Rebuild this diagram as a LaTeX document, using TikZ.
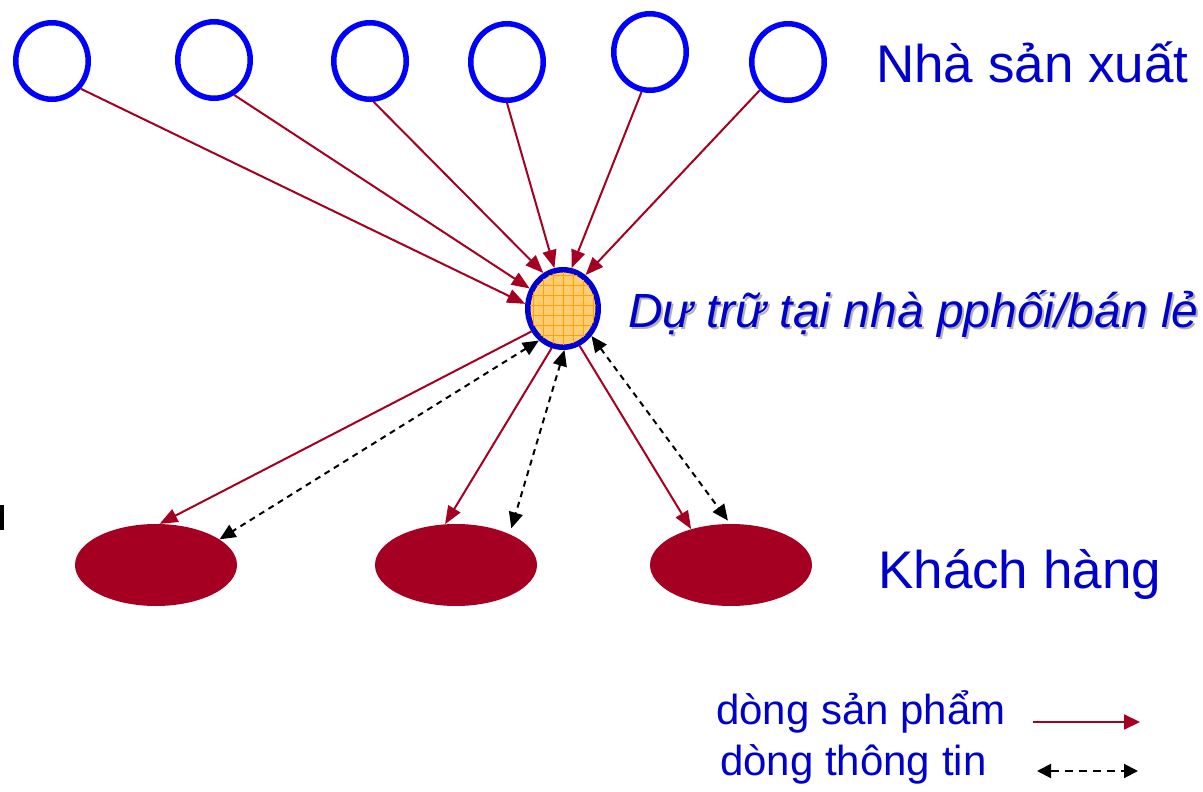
\documentclass[tikz,border=0pt]{standalone}
\usepackage{fontspec}
\setmainfont{Liberation Sans}
\usetikzlibrary{shapes.geometric,arrows.meta}
\definecolor{prodred}{RGB}{165,0,33}
\definecolor{txtblue}{RGB}{0,0,204}
\definecolor{ringblue}{RGB}{0,0,255}
\definecolor{cblue}{RGB}{0,0,210}
\definecolor{cfill}{RGB}{255,204,110}
\definecolor{cgrid}{RGB}{255,160,20}
\tikzset{
  producer/.style={ellipse,draw=ringblue,line width=5.5pt,minimum width=72.5pt,minimum height=76.5pt,inner sep=0pt,fill=white},
  customer/.style={ellipse,fill=prodred,minimum width=162pt,minimum height=82pt,inner sep=0pt},
  store/.style={ellipse,draw=cblue,line width=5.5pt,fill=cfill,minimum width=70.5pt,minimum height=77.5pt,inner sep=0pt},
  prodflow/.style={draw=prodred,line width=2pt,-{Triangle[length=18pt,width=14pt]}},
  infoflow/.style={draw=black,line width=2pt,dash pattern=on 6pt off 5pt,{Triangle[length=16pt,width=14pt]}-{Triangle[length=16pt,width=14pt]}},
  bigtext/.style={text=txtblue,anchor=base west,inner sep=0pt,font=\fontsize{53}{60}\selectfont},
  legtext/.style={text=txtblue,anchor=base west,inner sep=0pt,font=\fontsize{42}{48}\selectfont},
}
\begin{document}
\begin{tikzpicture}[x=1pt,y=-1pt]
\useasboundingbox (0,0) rectangle (1203,792);
% producers
\node[producer] (p1) at (52,61) {};
\node[producer] (p2) at (214,60) {};
\node[producer] (p3) at (370,61) {};
\node[producer] (p4) at (507,62) {};
\node[producer] (p5) at (650,52) {};
\node[producer] (p6) at (788,62) {};
% store
\node[store] (c) at (563,308.5) {};
\begin{scope}
  \clip (563,308.5) ellipse [x radius=33, y radius=36.5];
  \foreach \gx in {523,533,...,603} {\draw[cgrid,line width=0.8pt] (\gx,260) -- (\gx,360);}
  \foreach \gy in {265,275,...,355} {\draw[cgrid,line width=0.8pt] (520,\gy) -- (610,\gy);}
\end{scope}
% customers
\node[customer] (k1) at (156,565) {};
\node[customer] (k2) at (456,565) {};
\node[customer] (k3) at (731,565) {};
% product flows in
\draw[prodflow] (p1.-44) -- (c.173);
\draw[prodflow] (p2.-60) -- (c.149);
\draw[prodflow] (p3.-85) -- (c.119);
\draw[prodflow] (p4.-90) -- (c.102);
\draw[prodflow] (p5.-102) -- (c.78);
\draw[prodflow] (p6.-135) -- (c.56);
% product flows out
\draw[prodflow] (c.-144) -- (k1.85);
\draw[prodflow] (c.-106) -- (k2.105);
\draw[prodflow] (c.-66) -- (k3.138);
% information flows
\draw[infoflow] (c.-127) -- (k1.22);
\draw[infoflow,shorten >=6pt] (c.-88) -- (k2.30);
\draw[infoflow,shorten >=4pt] (c.-44) -- (k3.91);
% labels
\node[bigtext] (tp) at (876,82) {Nhà sản xuất};
\node[bigtext] (tk) at (878,588) {Khách hàng};
\node[text=black!30,anchor=base west,inner sep=0pt,font=\fontsize{48}{54}\selectfont\itshape] (tsh) at (630,329) {Dự trữ tại nhà pphối/bán lẻ};
\node[text=txtblue,anchor=base west,inner sep=0pt,font=\fontsize{48}{54}\selectfont\itshape] (ts) at (628,327) {Dự trữ tại nhà pphối/bán lẻ};
% legend
\node[legtext] (l1) at (716,724) {dòng sản phẩm};
\node[legtext] (l2) at (720,775) {dòng thông tin};
\coordinate (la1) at (1033,722);
\coordinate (la2) at (1140,722);
\coordinate (lb1) at (1037,771);
\coordinate (lb2) at (1138,771);
\draw[draw=prodred,line width=2pt,-{Triangle[length=16pt,width=15pt]}] (la1) -- (la2);
\draw[draw=black,line width=2pt,dash pattern=on 8pt off 6pt,{Triangle[length=14pt,width=14pt]}-{Triangle[length=14pt,width=14pt]}] (lb1) -- (lb2);
% cut-off glyph at left edge
\fill[black] (0,505) rectangle (3.5,530);
\end{tikzpicture}
\end{document}
